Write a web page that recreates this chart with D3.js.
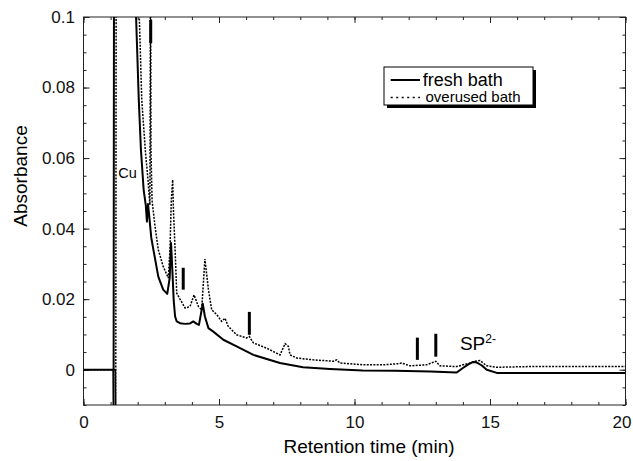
<!DOCTYPE html>
<html>
<head>
<meta charset="utf-8">
<script src="https://cdn.jsdelivr.net/npm/d3@7"></script>
<style>
  body { margin: 0; background: #fff; }
  svg { display: block; font-family: "Liberation Sans", Arial, Helvetica, sans-serif; }
</style>
</head>
<body>
<div id="chart"></div>
<script>
// Chromatogram traces (time in min, absorbance)
const freshTime = [0, 0.5, 1.0, 1.10, 1.11, 1.13, 1.94, 2.04, 2.12, 2.22, 2.30, 2.34, 2.38, 2.42, 2.50, 2.58, 2.76, 2.94, 3.09, 3.18, 3.23, 3.28, 3.33, 3.38, 3.44, 3.56, 3.75, 3.92, 4.05, 4.18, 4.26, 4.40, 4.48, 4.61, 4.79, 5.16, 5.65, 6.27, 7.25, 8.1, 9.1, 10.3, 11.5, 12.8, 13.77, 14.0, 14.2, 14.38, 14.5, 14.7, 14.88, 15.25, 16, 17, 18, 19, 20];
const freshAbs = [0, 0, 0, 0, -0.012, 0.15, 0.1, 0.0765, 0.0623, 0.051, 0.0465, 0.042, 0.047, 0.044, 0.0375, 0.034, 0.0264, 0.0227, 0.0215, 0.026, 0.0359, 0.028, 0.0195, 0.0151, 0.0137, 0.0132, 0.013, 0.0131, 0.0137, 0.013, 0.0127, 0.0187, 0.0151, 0.0118, 0.0108, 0.0085, 0.0066, 0.0042, 0.0019, 0.0007, 0.0002, -0.0002, -0.0003, -0.0005, -0.0008, 0.0005, 0.0015, 0.0022, 0.0021, 0.0012, 0, -0.0009, -0.0009, -0.0009, -0.0009, -0.0009, -0.0009];

const overTime = [0, 0.5, 1.0, 1.18, 1.19, 1.21, 2.06, 2.15, 2.28, 2.38, 2.45, 2.475, 2.49, 2.53, 2.64, 2.76, 2.94, 3.13, 3.19, 3.24, 3.29, 3.32, 3.38, 3.44, 3.56, 3.75, 3.93, 4.08, 4.24, 4.36, 4.48, 4.61, 4.73, 4.92, 5.10, 5.22, 5.34, 5.65, 6.02, 6.12, 6.27, 6.76, 7.25, 7.44, 7.56, 7.62, 7.87, 8.48, 9.22, 9.34, 9.46, 10.32, 11.06, 11.6, 11.74, 12.05, 12.66, 13.0, 13.15, 13.77, 14.26, 14.45, 14.63, 14.88, 15.25, 16.5, 17.7, 19, 20];
const overAbs = [0, 0, 0, 0, -0.012, 0.15, 0.1, 0.0765, 0.0623, 0.0538, 0.0467, 0.12, 0.062, 0.048, 0.0406, 0.034, 0.0293, 0.026, 0.034, 0.048, 0.0538, 0.045, 0.034, 0.0217, 0.020, 0.0175, 0.0179, 0.0212, 0.0179, 0.017, 0.0314, 0.0227, 0.017, 0.0156, 0.0137, 0.0146, 0.0123, 0.0099, 0.009, 0.0094, 0.0076, 0.0061, 0.0042, 0.0074, 0.0066, 0.0042, 0.0033, 0.0028, 0.0024, 0.0028, 0.0019, 0.0014, 0.0014, 0.0017, 0.0019, 0.0011, 0.0014, 0.0024, 0.0011, 0.0009, 0.0019, 0.0024, 0.0026, 0.0011, 0.0007, 0.0009, 0.0009, 0.0009, 0.0009];

// Vertical peak markers (time, absorbance span)
const markerTime = [2.48, 3.68, 6.12, 12.32, 13.0];
const markerTop = [0.0992, 0.0289, 0.0164, 0.0091, 0.0102];
const markerBottom = [0.0926, 0.0227, 0.0099, 0.0028, 0.0037];

const xTicks = [0, 5, 10, 15, 20];
const yTicks = [0, 0.02, 0.04, 0.06, 0.08, 0.1];

const width = 633, height = 461;
const plot = { left: 83.5, right: 625.5, top: 17, bottom: 405 };

const svg = d3.select('#chart').append('svg')
  .attr('width', width)
  .attr('height', height);

const x = d3.scaleLinear().domain([0, 20]).range([plot.left, plot.right]);
const y = d3.scaleLinear().domain([-0.01, 0.1]).range([plot.bottom, plot.top]);

svg.append('clipPath').attr('id', 'clip')
  .append('rect')
  .attr('x', plot.left).attr('y', plot.top)
  .attr('width', plot.right - plot.left).attr('height', plot.bottom - plot.top);

// minor ticks
const minorX = d3.range(0, 21, 1);
const minorY = d3.range(-0.01, 0.1001, 0.005);
const axisColor = '#222';

function styleAxis(g) {
  g.select('.domain').remove();
  g.selectAll('line').attr('stroke', axisColor);
  g.selectAll('text').attr('fill', '#111').style('font-size', '17px');
}

svg.append('g').attr('transform', `translate(0,${plot.bottom})`)
  .call(d3.axisBottom(x).tickValues(minorX).tickSize(-3).tickFormat(''))
  .call(styleAxis);
svg.append('g').attr('transform', `translate(0,${plot.top})`)
  .call(d3.axisTop(x).tickValues(minorX).tickSize(-3).tickFormat(''))
  .call(styleAxis);
svg.append('g').attr('transform', `translate(${plot.left},0)`)
  .call(d3.axisLeft(y).tickValues(minorY).tickSize(-3).tickFormat(''))
  .call(styleAxis);
svg.append('g').attr('transform', `translate(${plot.right},0)`)
  .call(d3.axisRight(y).tickValues(minorY).tickSize(-3).tickFormat(''))
  .call(styleAxis);

// major ticks with labels
svg.append('g').attr('transform', `translate(0,${plot.bottom})`)
  .call(d3.axisBottom(x).tickValues(xTicks).tickSize(-6).tickPadding(11).tickFormat(d3.format('d')))
  .call(styleAxis)
  .selectAll('text').filter(d => d === 20).attr('dx', -4);
svg.append('g').attr('transform', `translate(0,${plot.top})`)
  .call(d3.axisTop(x).tickValues(xTicks).tickSize(-6).tickFormat(''))
  .call(styleAxis);
svg.append('g').attr('transform', `translate(${plot.left},0)`)
  .call(d3.axisLeft(y).tickValues(yTicks).tickSize(-6).tickPadding(8.5)
    .tickFormat(d => d === 0 ? '0' : d3.format('.2~f')(d)))
  .call(styleAxis);
svg.append('g').attr('transform', `translate(${plot.right},0)`)
  .call(d3.axisRight(y).tickValues(yTicks).tickSize(-6).tickFormat(''))
  .call(styleAxis);

svg.append('rect')
  .attr('x', plot.left).attr('y', plot.top)
  .attr('width', plot.right - plot.left).attr('height', plot.bottom - plot.top)
  .attr('fill', 'none').attr('stroke', axisColor).attr('stroke-width', 1);

// traces
const fresh = freshTime.map((t, i) => ({ t, a: freshAbs[i] }));
const over = overTime.map((t, i) => ({ t, a: overAbs[i] }));
const line = d3.line().x(d => x(d.t)).y(d => y(d.a));

const traces = svg.append('g').attr('clip-path', 'url(#clip)');
traces.append('path').datum(over)
  .attr('d', line)
  .attr('fill', 'none').attr('stroke', '#000')
  .attr('stroke-width', 1.5).attr('stroke-dasharray', '2,1.3');
traces.append('path').datum(fresh)
  .attr('d', line)
  .attr('fill', 'none').attr('stroke', '#000')
  .attr('stroke-width', 2).attr('stroke-linejoin', 'round');

svg.selectAll('.marker')
  .data(markerTime)
  .enter().append('line')
  .attr('class', 'marker')
  .attr('x1', d => x(d)).attr('x2', d => x(d))
  .attr('y1', (d, i) => y(markerTop[i]))
  .attr('y2', (d, i) => y(markerBottom[i]))
  .attr('stroke', '#000').attr('stroke-width', 3);

// peak labels
svg.append('text')
  .attr('x', x(1.28)).attr('y', y(0.0544))
  .style('font-size', '14.5px')
  .text('Cu');

const sp = svg.append('text')
  .attr('x', x(13.89)).attr('y', y(0.0057))
  .style('font-size', '19px');
sp.append('tspan').text('SP');
sp.append('tspan').attr('dy', -7).style('font-size', '12px').text('2-');

// axis titles
svg.append('text')
  .attr('x', 369).attr('y', 453)
  .attr('text-anchor', 'middle')
  .style('font-size', '19px')
  .text('Retention time (min)');

svg.append('text')
  .attr('transform', 'translate(27,176) rotate(-90)')
  .attr('text-anchor', 'middle')
  .style('font-size', '19px')
  .text('Absorbance');

// legend
const legend = svg.append('g');
legend.append('rect')
  .attr('x', 387).attr('y', 70).attr('width', 149).attr('height', 38)
  .attr('fill', '#000');
legend.append('rect')
  .attr('x', 384).attr('y', 67).attr('width', 149).attr('height', 38)
  .attr('fill', '#fff').attr('stroke', '#000').attr('stroke-width', 1);
legend.append('line')
  .attr('x1', 390.7).attr('x2', 420).attr('y1', 80).attr('y2', 80)
  .attr('stroke', '#000').attr('stroke-width', 2);
legend.append('line')
  .attr('x1', 390.7).attr('x2', 420).attr('y1', 97.5).attr('y2', 97.5)
  .attr('stroke', '#000').attr('stroke-width', 1.6).attr('stroke-dasharray', '2,3.5');
legend.append('text')
  .attr('x', 422.7).attr('y', 86)
  .style('font-size', '18px')
  .text('fresh bath');
legend.append('text')
  .attr('x', 425.5).attr('y', 102)
  .style('font-size', '15px')
  .text('overused bath');
</script>
</body>
</html>
